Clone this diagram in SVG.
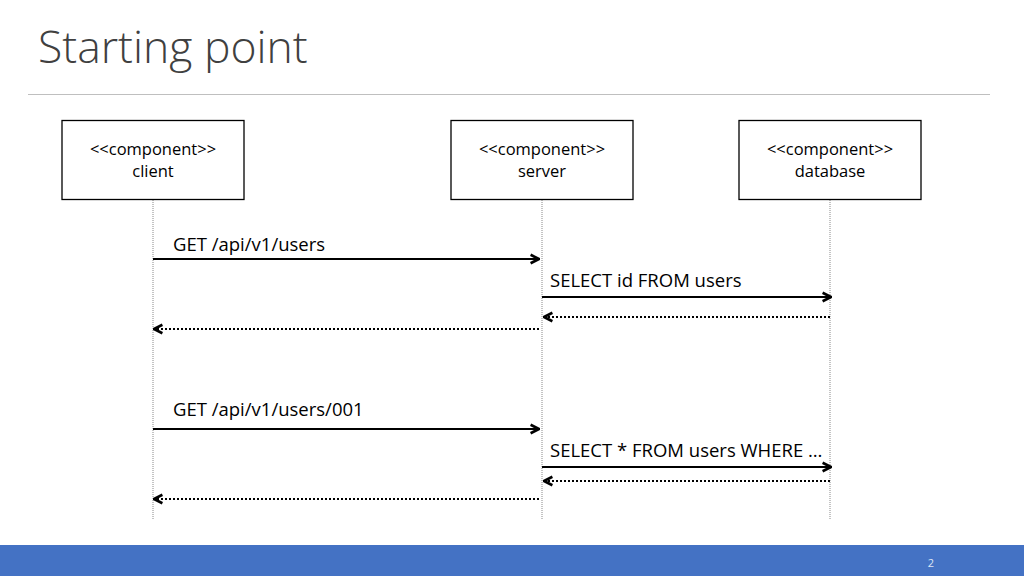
<svg xmlns="http://www.w3.org/2000/svg" width="1024" height="576" viewBox="0 0 1024 576">
<defs>
<style>
.t{font-family:"Open Sans","Liberation Sans",sans-serif;fill:#000}
.lbl{font-size:18.5px}
.box{fill:#fff;stroke:#000;stroke-width:1.3}
.bt{font-size:16.5px;text-anchor:middle}
.life{stroke:#888;stroke-width:1;stroke-dasharray:1 1}
.call{stroke:#000;stroke-width:2;fill:none}
.ret{stroke:#000;stroke-width:2;fill:none;stroke-dasharray:2 2}
</style>
<marker id="ah" viewBox="0 0 10 10" refX="9" refY="5" markerWidth="6" markerHeight="6" markerUnits="strokeWidth" orient="auto-start-reverse">
<path d="M2,1.5 L9,5 L2,8.5" fill="none" stroke="#000" stroke-width="2.2"/>
</marker>
</defs>
<rect width="1024" height="576" fill="#fff"/>
<text class="t" x="38" y="63" font-size="44.5" font-weight="300" style="fill:#404040">Starting point</text>
<line x1="28" y1="94.5" x2="990" y2="94.5" stroke="#bfbfbf" stroke-width="1"/>
<g id="connectors">
<line class="life" x1="153" y1="200" x2="153" y2="520"/>
<line class="life" x1="542" y1="200" x2="542" y2="520"/>
<line class="life" x1="830" y1="200" x2="830" y2="520"/>
<line class="call" x1="153" y1="259" x2="539" y2="259" marker-end="url(#ah)"/>
<line class="call" x1="542" y1="297" x2="831" y2="297" marker-end="url(#ah)"/>
<line class="ret" x1="830" y1="317" x2="544" y2="317" marker-end="url(#ah)"/>
<line class="ret" x1="539" y1="329" x2="154" y2="329" marker-end="url(#ah)"/>
<line class="call" x1="153" y1="429" x2="539" y2="429" marker-end="url(#ah)"/>
<line class="call" x1="542" y1="467" x2="831" y2="467" marker-end="url(#ah)"/>
<line class="ret" x1="830" y1="481" x2="544" y2="481" marker-end="url(#ah)"/>
<line class="ret" x1="539" y1="499" x2="154" y2="499" marker-end="url(#ah)"/>
<text class="t lbl" x="173" y="251">GET /api/v1/users</text>
<text class="t lbl" x="550" y="287">SELECT id FROM users</text>
<text class="t lbl" x="173" y="416">GET /api/v1/users/001</text>
<text class="t lbl" x="550" y="457">SELECT * FROM users WHERE …</text>
</g>
<g id="client">
<rect class="box" x="62" y="120.5" width="182" height="79"/>
<text class="t bt" x="153" y="155">&lt;&lt;component&gt;&gt;</text>
<text class="t bt" x="153" y="177">client</text>
</g>
<g id="server">
<rect class="box" x="451" y="120.5" width="182" height="79"/>
<text class="t bt" x="542" y="155">&lt;&lt;component&gt;&gt;</text>
<text class="t bt" x="542" y="177">server</text>
</g>
<g id="database">
<rect class="box" x="739" y="120.5" width="182" height="79"/>
<text class="t bt" x="830" y="155">&lt;&lt;component&gt;&gt;</text>
<text class="t bt" x="830" y="177">database</text>
</g>
<rect x="0" y="545" width="1024" height="31" fill="#4472c4"/>
<text x="931" y="567" font-family="Open Sans, Liberation Sans, sans-serif" font-size="11" fill="#dde6f5" text-anchor="middle">2</text>
</svg>
